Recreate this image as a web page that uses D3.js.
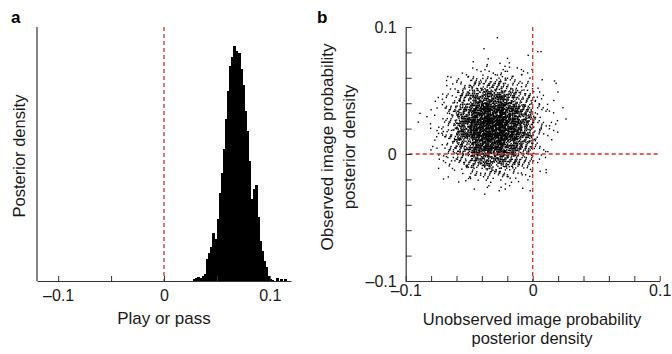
<!DOCTYPE html>
<html>
<head>
<meta charset="utf-8">
<script src="https://cdn.jsdelivr.net/npm/d3@7"></script>
<style>
  html, body { margin: 0; padding: 0; background: #fff; }
  svg { display: block; }
</style>
</head>
<body>
<svg id="chart" width="672" height="354"></svg>
<script>
// ─── Panel a: posterior histogram of "Play or pass" ─────────────────────────
const histEdges = [
  0.028, 0.030, 0.032, 0.034, 0.036, 0.038, 0.040, 0.042, 0.044, 0.046,
  0.048, 0.050, 0.052, 0.054, 0.056, 0.058, 0.060, 0.062, 0.064, 0.066,
  0.068, 0.070, 0.072, 0.074, 0.076, 0.078, 0.080, 0.082, 0.084, 0.086,
  0.088, 0.090, 0.092, 0.094, 0.096, 0.098, 0.100, 0.102, 0.104, 0.106,
  0.108, 0.110, 0.112, 0.114
];
const histCounts = [
  2, 3, 4, 3, 5, 7, 22, 28, 34, 48,
  42, 62, 88, 108, 132, 162, 190, 215, 224, 235,
  230, 228, 212, 196, 170, 150, 120, 82, 92, 96,
  64, 40, 30, 20, 14, 5, 2, 1, 0, 3,
  0, 2, 0, 2
];
const histBinWidth = 0.002;
const histTicks = [-0.1, -0.05, 0, 0.05, 0.1];
const histTickLabels = [-0.1, 0, 0.1];

// ─── Panel b: joint posterior samples (counts per 0.01 x 0.01 cell) ─────────
const cellSize = 0.01;
const gridX = [-0.09, -0.08, -0.07, -0.06, -0.05, -0.04, -0.03, -0.02, -0.01, 0.00, 0.01, 0.02];
const gridY = [0.09, 0.08, 0.07, 0.06, 0.05, 0.04, 0.03, 0.02, 0.01, 0.00, -0.01, -0.02, -0.03];
const gridCounts = [
  [0, 0,  0,  0,   0,   0,   0,   0,  0,  0, 0, 0],
  [0, 0,  0,  0,   0,   0,   0,   0,  0,  0, 0, 0],
  [0, 0,  0,  0,   0,   1,   0,   1,  1,  0, 0, 0],
  [0, 0,  1,  2,   4,   6,   7,   5,  3,  1, 0, 0],
  [0, 1,  4, 11,  22,  30,  29,  20,  9,  2, 0, 0],
  [0, 2, 10, 28,  58,  76,  74,  50, 23,  6, 2, 0],
  [0, 3, 18, 52, 100, 130, 127,  88, 44, 10, 3, 0],
  [1, 5, 23, 68, 128, 165, 162, 116, 58, 13, 4, 1],
  [0, 5, 22, 66, 125, 160, 157, 113, 56, 12, 3, 0],
  [0, 4, 16, 47,  94, 118, 115,  82, 40,  9, 2, 0],
  [0, 2,  8, 23,  48,  64,  62,  42, 19,  4, 0, 0],
  [0, 0,  2,  6,  13,  19,  18,  12,  6,  2, 0, 0],
  [0, 0,  0,  1,   2,   3,   3,   3,  1,  0, 0, 0]
];
// isolated samples read individually
const outlierX = [-0.0278, -0.0384, 0.0040, 0.0066, -0.0468, -0.0257, -0.0198, 0.0172, 0.0185, 0.0238, -0.0887, -0.0833, -0.0741, -0.0702, 0.0106, -0.0079, -0.0357];
const outlierY = [ 0.0916,  0.0829, 0.0806, 0.0806,  0.0727,  0.0714,  0.0753, 0.0575, 0.0557, 0.0365,  0.0320,  0.0294, -0.0113, -0.0197, -0.0147, -0.0270, -0.0262];
const scatTicks = [-0.1, -0.08, -0.06, -0.04, -0.02, 0, 0.02, 0.04, 0.06, 0.08, 0.1];
const scatTickLabels = [-0.1, 0, 0.1];

// ─── Style ──────────────────────────────────────────────────────────────────
const C = {
  axis: '#333',
  text: '#1a1a1a',
  ref: '#e3262b',
  mark: '#000',
  font: '"Liberation Sans", Arial, Helvetica, sans-serif',
};
const fmt = v => (Math.abs(v) < 1e-9 ? '0' : (v < 0 ? '\u2013' : '') + Math.abs(v));
const labelIf = list => v => (list.some(l => Math.abs(l - v) < 1e-9) ? fmt(v) : '');

const svg = d3.select('#chart');

function styleAxis(g) {
  g.select('.domain').attr('stroke', C.axis).attr('stroke-width', 1.2);
  g.selectAll('.tick line').attr('stroke', C.axis).attr('stroke-width', 1);
  g.selectAll('.tick text').attr('fill', C.text).attr('font-size', 16).attr('font-family', C.font);
}

// ─── Panel a ────────────────────────────────────────────────────────────────
const xA = d3.scaleLinear().domain([-0.12, 0.12]).range([37, 291]);
const yA = d3.scaleLinear().domain([0, 254]).range([281, 27]);

const pa = svg.append('g');
pa.selectAll('rect.bin').data(histEdges).enter().append('rect')
  .attr('x', d => xA(d) - 0.4)
  .attr('width', d => xA(d + histBinWidth) - xA(d) + 0.8)
  .attr('y', (d, i) => yA(histCounts[i]))
  .attr('height', (d, i) => yA(0) - yA(histCounts[i]))
  .attr('fill', C.mark).attr('shape-rendering', 'crispEdges');

pa.append('line')
  .attr('x1', xA(0)).attr('x2', xA(0)).attr('y1', yA(254)).attr('y2', yA(0))
  .attr('stroke', C.ref).attr('stroke-width', 1.3).attr('stroke-dasharray', '4,3');

pa.append('g').attr('transform', `translate(0,${yA(0)})`)
  .call(d3.axisBottom(xA).tickValues(histTicks).tickSizeInner(-5).tickSizeOuter(0)
    .tickPadding(9).tickFormat(labelIf(histTickLabels)))
  .call(styleAxis);
pa.append('line')
  .attr('x1', xA(-0.12)).attr('x2', xA(-0.12)).attr('y1', yA(0)).attr('y2', yA(254))
  .attr('stroke', C.axis).attr('stroke-width', 1.2);

pa.append('text').attr('x', 164).attr('y', 324).attr('text-anchor', 'middle')
  .attr('font-size', 17).attr('font-family', C.font).attr('fill', C.text)
  .text('Play or pass');
pa.append('text').attr('transform', 'translate(25,156) rotate(-90)').attr('text-anchor', 'middle')
  .attr('font-size', 16.5).attr('font-family', C.font).attr('fill', C.text)
  .text('Posterior density');
pa.append('text').attr('x', 11).attr('y', 23)
  .attr('font-size', 17).attr('font-weight', 700).attr('font-family', C.font).attr('fill', '#000')
  .text('a');

// ─── Panel b ────────────────────────────────────────────────────────────────
const xB = d3.scaleLinear().domain([-0.1, 0.1]).range([405.7, 659.7]);
const yB = d3.scaleLinear().domain([-0.1, 0.1]).range([281, 27]);

// cell samples spread on a 4-d low-discrepancy pattern (soft kernel across cell edges)
const phi4 = 1.1673039782614187;
const alpha = [1, 2, 3, 4].map(p => 1 / Math.pow(phi4, p));
const frac = t => t - Math.floor(t);
const pts = [];
let g = 0;
gridCounts.forEach((row, r) => {
  row.forEach((n, c) => {
    for (let k = 0; k < n; k++, g++) {
      const a = alpha.map(al => frac(0.5 + g * al));
      const u = 0.5 + (a[0] + a[1] - 1) * 0.8;
      const v = 0.5 + (a[2] + a[3] - 1) * 0.8;
      pts.push([gridX[c] + u * cellSize, gridY[r] + v * cellSize]);
    }
  });
});
outlierX.forEach((x, i) => pts.push([x, outlierY[i]]));

const pb = svg.append('g');
pb.selectAll('rect.pt').data(pts).enter().append('rect')
  .attr('x', d => xB(d[0]) - 0.7).attr('y', d => yB(d[1]) - 0.7)
  .attr('width', 1.4).attr('height', 1.4).attr('fill', C.mark);

pb.append('line')
  .attr('x1', xB(0)).attr('x2', xB(0)).attr('y1', yB(0.1)).attr('y2', yB(-0.1))
  .attr('stroke', C.ref).attr('stroke-width', 1.3).attr('stroke-dasharray', '4,3');
pb.append('line')
  .attr('x1', xB(-0.1)).attr('x2', xB(0.1)).attr('y1', yB(0)).attr('y2', yB(0))
  .attr('stroke', C.ref).attr('stroke-width', 1.3).attr('stroke-dasharray', '4,3')
  .attr('stroke-dashoffset', 4);

pb.append('g').attr('transform', `translate(0,${yB(-0.1)})`)
  .call(d3.axisBottom(xB).tickValues(scatTicks).tickSizeInner(-5).tickSizeOuter(0)
    .tickPadding(4).tickFormat(labelIf(scatTickLabels)))
  .call(styleAxis);
pb.append('g').attr('transform', `translate(${xB(-0.1)},0)`)
  .call(d3.axisLeft(yB).tickValues(scatTicks).tickSizeInner(-6).tickSizeOuter(0)
    .tickPadding(9).tickFormat(labelIf(scatTickLabels)))
  .call(styleAxis);

pb.append('text').attr('x', 532).attr('y', 325).attr('text-anchor', 'middle')
  .attr('font-size', 16.5).attr('font-family', C.font).attr('fill', C.text)
  .text('Unobserved image probability');
pb.append('text').attr('x', 532).attr('y', 344).attr('text-anchor', 'middle')
  .attr('font-size', 16.5).attr('font-family', C.font).attr('fill', C.text)
  .text('posterior density');
pb.append('text').attr('transform', 'translate(333,147) rotate(-90)').attr('text-anchor', 'middle')
  .attr('font-size', 17).attr('font-family', C.font).attr('fill', C.text)
  .text('Observed image probability');
pb.append('text').attr('transform', 'translate(355,147) rotate(-90)').attr('text-anchor', 'middle')
  .attr('font-size', 17).attr('font-family', C.font).attr('fill', C.text)
  .text('posterior density');
pb.append('text').attr('x', 317).attr('y', 23)
  .attr('font-size', 17).attr('font-weight', 700).attr('font-family', C.font).attr('fill', '#000')
  .text('b');
</script>
</body>
</html>
